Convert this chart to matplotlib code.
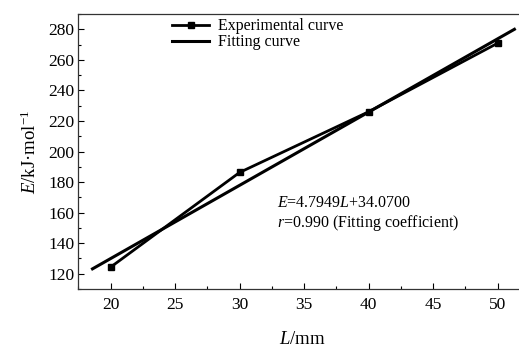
import matplotlib
matplotlib.use("Agg")
import matplotlib.pyplot as plt
from matplotlib.ticker import MultipleLocator

# values
length_mm = [20, 30, 40, 50]
energy_exp = [124.3, 186.3, 226.0, 270.9]

# fitted line endpoints (E = 4.7949L + 34.0700)
fit_length = [18.6, 51.3]
fit_energy = [123.2, 280.0]

x_ticks = [20, 25, 30, 35, 40, 45, 50]
y_ticks = [120, 140, 160, 180, 200, 220, 240, 260, 280]

plt.rcParams["font.family"] = ["Liberation Serif", "DejaVu Serif"]
plt.rcParams["mathtext.fontset"] = "custom"
plt.rcParams["mathtext.rm"] = "Liberation Serif"
plt.rcParams["mathtext.it"] = "Liberation Serif:italic"

fig = plt.figure(figsize=(5.19, 3.48), dpi=100)
# the right side of the frame runs past the image edge in the reference
ax = fig.add_axes([0.1509, 0.1695, 0.8626, 0.7902])

ax.plot(length_mm, energy_exp, color="black", lw=2.0, marker="s", markersize=5,
        label="Experimental curve")
ax.plot(fit_length, fit_energy, color="black", lw=2.2, label="Fitting curve")

ax.set_xlim(17.5, 52.2)
ax.set_ylim(110, 290)
ax.set_xticks(x_ticks)
ax.set_yticks(y_ticks)
ax.xaxis.set_minor_locator(MultipleLocator(2.5))
ax.yaxis.set_minor_locator(MultipleLocator(10))
ax.tick_params(which="both", direction="in", labelsize=12.5, width=0.8)
ax.tick_params(which="major", length=4)
ax.tick_params(which="minor", length=2.5)
ax.tick_params(axis="x", pad=6)
ax.tick_params(axis="y", pad=3)
for sp in ax.spines.values():
    sp.set_linewidth(0.9)
    sp.set_color("#333333")

ax.set_xlabel(r"$L$/mm", fontsize=13.5, labelpad=13)
ax.set_ylabel(r"$E$/kJ·mol$^{-1}$", fontsize=13.5, labelpad=6)

ax.text(32.9, 166.6, r"$E$=4.7949$L$+34.0700", fontsize=11.5, va="center", ha="left")
ax.text(32.9, 153.5, r"$r$=0.990 (Fitting coefficient)", fontsize=11.5, va="center", ha="left")

ax.legend(loc="upper left", bbox_to_anchor=(0.21, 0.985), frameon=False, fontsize=11.5,
          handlelength=2.3, handletextpad=0.55, labelspacing=0.0, borderpad=0, borderaxespad=0)

fig.savefig("out.png", dpi=100)
